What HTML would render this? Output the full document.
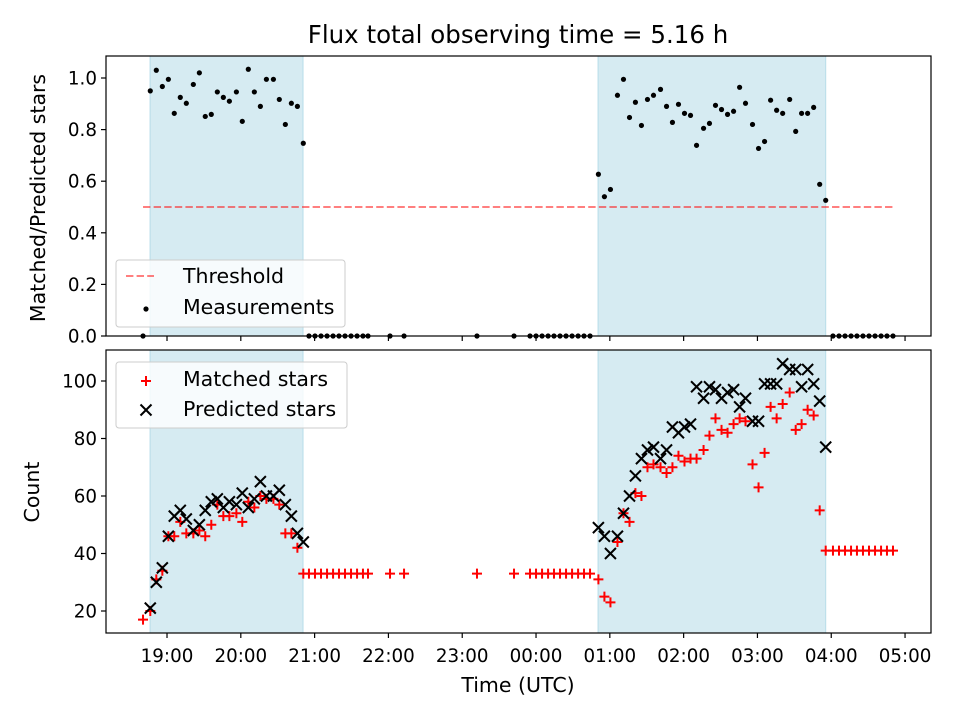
<!DOCTYPE html>
<html><head><meta charset="utf-8"><style>
body{margin:0;background:#fff;}
svg text{font-family:"DejaVu Sans","Liberation Sans",sans-serif;fill:#000;}
</style></head><body>
<svg id="chart" width="960" height="720" viewBox="0 0 960 720" xmlns="http://www.w3.org/2000/svg"></svg>
<script>
// ---- data (times in minutes since 18:00 UTC) ----
const xTickLabels=["19:00","20:00","21:00","22:00","23:00","00:00","01:00","02:00","03:00","04:00","05:00"];
const xTickMinutes=[60,120,180,240,300,360,420,480,540,600,660];
const topYTicks=[0.0,0.2,0.4,0.6,0.8,1.0];
const botYTicks=[20,40,60,80,100];
const spanStarts=[46.2,410.4];
const spanEnds=[170.6,595.5];
const threshold=0.5;
const thresholdRange=[40.5,650.2];
const seg1Times=[46.4,51.3,56.2,61.1,65.9,70.8,75.7,81.4,86.3,91.1,96.0,100.9,105.8,110.7,116.4,121.2,126.1,131.0,135.9,140.8,146.5,151.3,156.2,161.1,166.0,170.8];
const gapTimes=[175.4,180.3,185.2,190.1,195,199.8,204.7,209.6,214.5,219.3,223.4,241.3,252.7,312,342.1,355.1,360,364.9,369.8,374.6,379.5,384.4,389.3,394.2,399,403.9];
const seg2Times=[410.7,415.6,420.5,426.2,431.1,436.0,440.8,445.7,450.6,455.5,461.2,466.1,470.9,475.8,480.7,485.6,490.5,496.2,501.0,505.9,510.8,515.7,520.6,525.5,530.3,536.0,540.9,545.8,550.7,555.6,560.5,566.2,571.1,575.9,580.8,585.7,590.6,595.5];
const tailTimes=[601.4,606.3,611.2,616.1,620.9,625.8,630.7,635.6,640.5,645.3,650.2];
const preTime=[40.5];
const seg1Ratio=[0.95,1.03,0.967,0.995,0.863,0.925,0.902,0.975,1.02,0.851,0.859,0.946,0.925,0.91,0.946,0.832,1.034,0.946,0.89,0.995,0.995,0.917,0.82,0.902,0.89,0.747];
const seg2Ratio=[0.627,0.54,0.568,0.933,0.995,0.847,0.906,0.816,0.917,0.933,0.956,0.89,0.828,0.898,0.863,0.855,0.739,0.805,0.824,0.894,0.878,0.859,0.871,0.964,0.902,0.82,0.727,0.754,0.914,0.875,0.863,0.917,0.793,0.863,0.863,0.886,0.588,0.526];
const seg1Matched=[20,31,34,46,46,51,47,47,48,46,50,57,53,53,54,51,58,56,60,59,59,57,47,47,42,33];
const seg1Predicted=[21,30,35,46,53,55,52,48,50,55,58,59,56,58,57,61,56,59,65,60,60,62,57,53,47,44];
const seg2Matched=[31,25,23,44,54,51,61,60,70,71,70,68,70,74,72,73,73,76,81,87,83,82,85,87,86,71,63,75,91,87,92,96,83,85,90,88,55,41];
const seg2Predicted=[49,46,40,46,54,60,67,73,76,77,73,76,84,82,84,85,98,94,98,97,94,96,97,91,94,86,86,99,99,99,106,104,104,98,104,99,93,77];
const preMatched=[17];
const gapMatched=33, tailMatched=41;

// ---- layout ----
const L=106,R=931,T1=56,B1=336,T2=350,B2=633;
const xDom=[10.4,681.1];
const X=m=>L+(m-xDom[0])/(xDom[1]-xDom[0])*(R-L);
const Y1=v=>336-v*258;
const Y2=v=>611-(v-20)*2.875;
const FT=18.3, FL=20.5;
const svg=document.getElementById('chart');
const NS='http://www.w3.org/2000/svg';
function mk(tag,attrs,parent){const e=document.createElementNS(NS,tag);for(const k in attrs)e.setAttribute(k,attrs[k]);(parent||svg).appendChild(e);return e;}

// title
let t=mk('text',{x:518,y:43,'font-size':24.5,'text-anchor':'middle'});t.textContent='Flux total observing time = 5.16 h';



function panel(top,bot,name){
  const g=mk('g',{});
  
  
  for(let i=0;i<spanStarts.length;i++){
    const r=mk('rect',{x:X(spanStarts[i]),y:top,width:X(spanEnds[i])-X(spanStarts[i]),height:bot-top,fill:'rgba(173,216,230,0.5)',stroke:'rgba(173,216,230,0.8)','stroke-width':1},g);
    
    
  }
  return g;
}
const gTop=panel(T1,B1,'ratio-panel');
const gBot=panel(T2,B2,'count-panel');

// threshold
const th=mk('line',{x1:X(thresholdRange[0]),x2:X(thresholdRange[1]),y1:Y1(threshold),y2:Y1(threshold),stroke:'#ff0000','stroke-opacity':0.5,'stroke-width':2,'stroke-dasharray':'7.4,3.2'},gTop);



function dot(m,v){const c=mk('circle',{cx:X(m),cy:Y1(v),r:2.6,fill:'#000'},gTop);

}
preTime.forEach(m=>dot(m,0));
seg1Times.forEach((m,i)=>dot(m,seg1Ratio[i]));
gapTimes.forEach(m=>dot(m,0));
seg2Times.forEach((m,i)=>dot(m,seg2Ratio[i]));
tailTimes.forEach(m=>dot(m,0));

function plus(x,y,g,name){const p=mk('path',{d:`M${x-5},${y}H${x+5}M${x},${y-5}V${y+5}`,stroke:'#ff0000','stroke-width':2,fill:'none'},g);

}
function cross(x,y,g,name){const p=mk('path',{d:`M${x-5.5},${y-5.5}L${x+5.5},${y+5.5}M${x-5.5},${y+5.5}L${x+5.5},${y-5.5}`,stroke:'#000','stroke-width':2,fill:'none'},g);

}
preTime.forEach((m,i)=>plus(X(m),Y2(preMatched[i]),gBot,'matched-point'));
seg1Times.forEach((m,i)=>plus(X(m),Y2(seg1Matched[i]),gBot,'matched-point'));
gapTimes.forEach(m=>plus(X(m),Y2(gapMatched),gBot,'matched-point'));
seg2Times.forEach((m,i)=>plus(X(m),Y2(seg2Matched[i]),gBot,'matched-point'));
tailTimes.forEach(m=>plus(X(m),Y2(tailMatched),gBot,'matched-point'));
seg1Times.forEach((m,i)=>cross(X(m),Y2(seg1Predicted[i]),gBot,'predicted-point'));
seg2Times.forEach((m,i)=>cross(X(m),Y2(seg2Predicted[i]),gBot,'predicted-point'));

// axes frames
[[T1,B1,'ratio-axes-frame'],[T2,B2,'count-axes-frame']].forEach(([a,b,n])=>{
  const r=mk('rect',{x:L,y:a,width:R-L,height:b-a,fill:'none',stroke:'#000','stroke-width':1.2});
  
  
});
// x ticks
xTickMinutes.forEach((m,i)=>{
  mk('line',{x1:X(m),x2:X(m),y1:B1,y2:B1+5,stroke:'#000','stroke-width':1.2});
  mk('line',{x1:X(m),x2:X(m),y1:B2,y2:B2+5,stroke:'#000','stroke-width':1.2});
  const tx=mk('text',{x:X(m),y:662,'font-size':FT,'text-anchor':'middle'});tx.textContent=xTickLabels[i];
  
  
});
topYTicks.forEach(v=>{
  mk('line',{x1:L-5,x2:L,y1:Y1(v),y2:Y1(v),stroke:'#000','stroke-width':1.2});
  const tx=mk('text',{x:L-9,y:Y1(v)+6.5,'font-size':FT,'text-anchor':'end'});tx.textContent=v.toFixed(1);
  
  
});
botYTicks.forEach(v=>{
  mk('line',{x1:L-5,x2:L,y1:Y2(v),y2:Y2(v),stroke:'#000','stroke-width':1.2});
  const tx=mk('text',{x:L-9,y:Y2(v)+6.5,'font-size':FT,'text-anchor':'end'});tx.textContent=String(v);
  
  
});
// axis labels
let lb=mk('text',{x:518,y:692,'font-size':FL,'text-anchor':'middle'});lb.textContent='Time (UTC)';


lb=mk('text',{x:0,y:0,'font-size':FL,'text-anchor':'middle',transform:'translate(45,198) rotate(-90)'});lb.textContent='Matched/Predicted stars';


lb=mk('text',{x:0,y:0,'font-size':FL,'text-anchor':'middle',transform:'translate(39,492) rotate(-90)'});lb.textContent='Count';



// legends
const lg1=mk('g',{});


mk('rect',{x:116,y:260,width:229,height:67,rx:3,fill:'rgba(255,255,255,0.8)',stroke:'#ccc'},lg1);
mk('line',{x1:126,x2:154,y1:276,y2:276,stroke:'#ff0000','stroke-opacity':0.5,'stroke-width':2,'stroke-dasharray':'7.4,3.2'},lg1);
let e=mk('text',{x:183,y:283,'font-size':FL},lg1);e.textContent='Threshold';


mk('circle',{cx:146,cy:309,r:2.6,fill:'#000'},lg1);
e=mk('text',{x:183,y:314,'font-size':FL},lg1);e.textContent='Measurements';



const lg2=mk('g',{});


mk('rect',{x:116,y:362,width:231,height:66,rx:3,fill:'rgba(255,255,255,0.8)',stroke:'#ccc'},lg2);
plus(146,381,lg2,'legend-marker-matched');
e=mk('text',{x:183,y:386,'font-size':FL},lg2);e.textContent='Matched stars';


cross(146,410,lg2,'legend-marker-predicted');
e=mk('text',{x:183,y:416,'font-size':FL},lg2);e.textContent='Predicted stars';


</script>
</body></html>
